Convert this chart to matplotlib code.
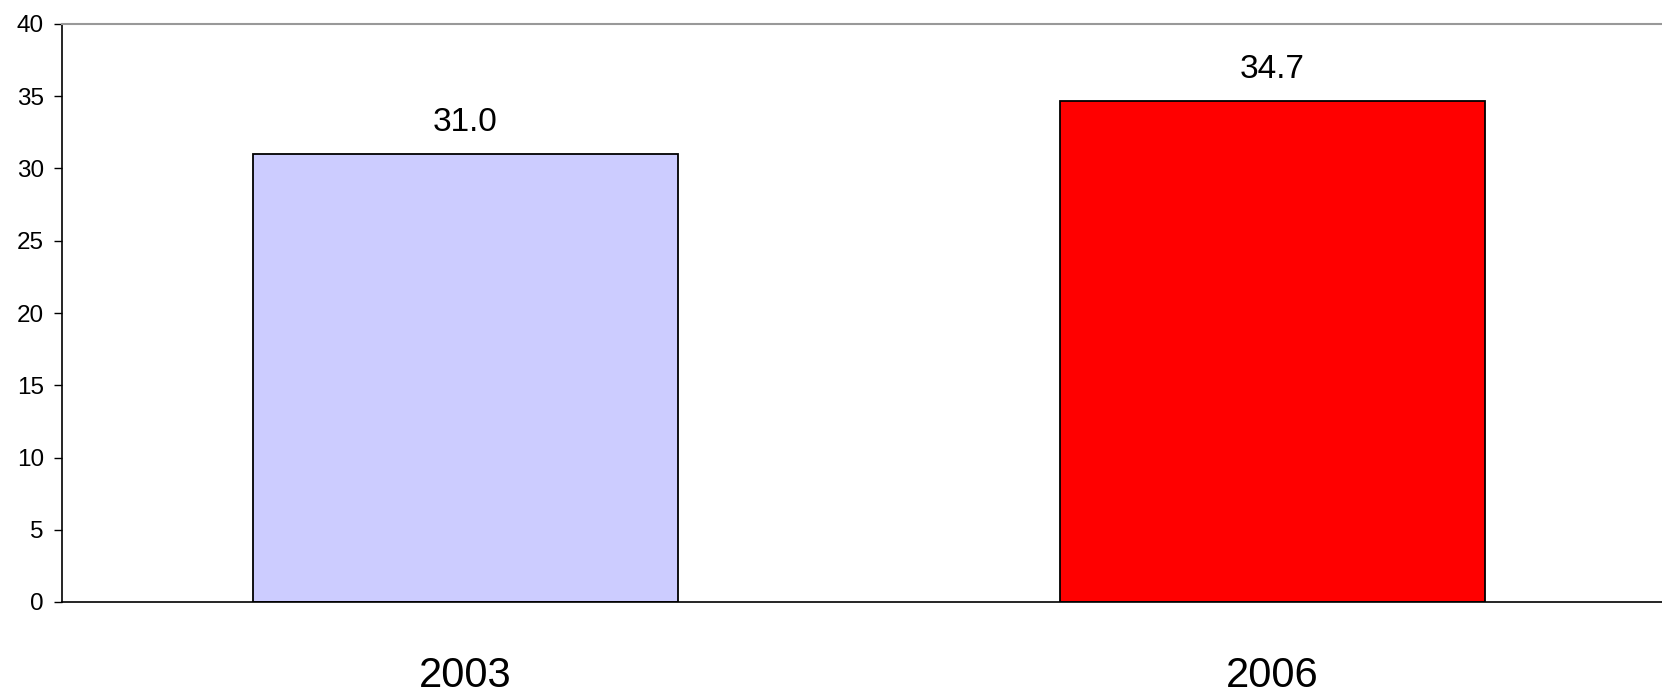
import matplotlib
matplotlib.use("Agg")
import matplotlib.pyplot as plt

# data
years = ["2003", "2006"]
values = [31.0, 34.7]
colors = ["#ccccff", "#ff0000"]

plt.rcParams['font.family'] = ['Liberation Sans', 'DejaVu Sans']

fig = plt.figure(figsize=(16.62, 6.93), dpi=100)
# axes run a little past the right edge of the picture, like the original
ax = fig.add_axes([62/1662, (693-602)/693, 1614/1662, 578/693])

x = range(len(years))
bars = ax.bar(x, values, width=0.526, color=colors, edgecolor='black', linewidth=1.3)

# value labels above bars
for xi, v in zip(x, values):
    ax.text(xi, v + 1.1, "%.1f" % v, ha='center', va='bottom', fontsize=24)

ax.set_xlim(-0.5, 1.5)
ax.set_ylim(0, 40)
ax.set_yticks(range(0, 41, 5))
ax.set_xticks(list(x))
ax.set_xticklabels(years, fontsize=30)
ax.tick_params(axis='x', length=0, pad=39)
ax.tick_params(axis='y', labelsize=17.5, length=6, width=1, pad=7)

ax.spines['right'].set_visible(False)
ax.spines['top'].set_color('#999999')
ax.spines['top'].set_linewidth(1.5)
ax.spines['left'].set_linewidth(1.2)
ax.spines['bottom'].set_linewidth(1.2)

fig.savefig("out.png", dpi=100)
